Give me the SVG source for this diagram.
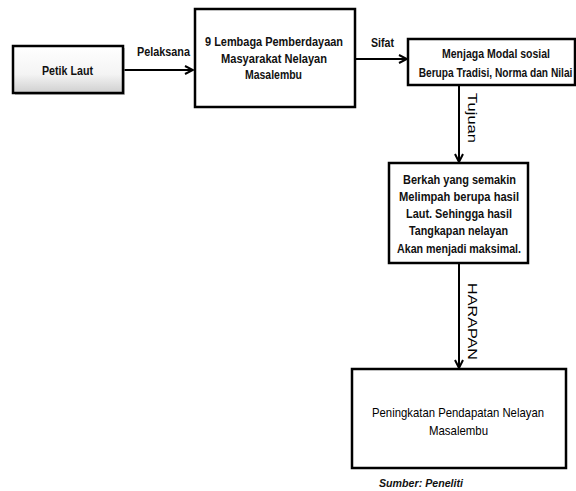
<svg xmlns="http://www.w3.org/2000/svg" width="576" height="491" viewBox="0 0 576 491">
<style>
.box{fill:#fff;stroke:#000;stroke-width:2.5}
.t{font-family:"Liberation Sans Narrow","Liberation Sans",Arial,sans-serif;font-weight:bold;font-size:13.5px;fill:#111;text-anchor:middle}
.n{font-weight:normal;fill:#000}
.c{stroke:#000;stroke-width:2;fill:none}
.src{font-family:"Liberation Sans Narrow","Liberation Sans",Arial,sans-serif;font-style:italic;font-weight:bold;font-size:11.5px;fill:#111;text-anchor:middle}
</style>
<defs>
<linearGradient id="g1" x1="0" y1="0" x2="0" y2="1">
<stop offset="0" stop-color="#ffffff"/>
<stop offset="0.6" stop-color="#f4f4f4"/>
<stop offset="1" stop-color="#cfcfcf"/>
</linearGradient>
<marker id="ah" viewBox="0 0 10 10" refX="9" refY="5" markerWidth="5" markerHeight="5" orient="auto" markerUnits="strokeWidth">
<polyline points="1,1 9,5 1,9" fill="none" stroke="#000" stroke-width="2"/>
</marker>
</defs>
<g id="connectors">
<line class="c" x1="124" y1="70" x2="193" y2="70" marker-end="url(#ah)"/>
<text class="t" transform="translate(163.5,56) scale(0.75,1)" x="0" y="0" textLength="70.7" lengthAdjust="spacingAndGlyphs">Pelaksana</text>
<line class="c" x1="356" y1="59" x2="407" y2="59" marker-end="url(#ah)"/>
<text class="t" transform="translate(382.5,47) scale(0.75,1)" x="0" y="0" textLength="30.7" lengthAdjust="spacingAndGlyphs">Sifat</text>
<line class="c" x1="459" y1="86" x2="459" y2="162" marker-end="url(#ah)"/>
<text class="t n" transform="translate(467.5,118) rotate(90)" x="0" y="0" textLength="50" lengthAdjust="spacingAndGlyphs">Tujuan</text>
<line class="c" x1="459" y1="264" x2="459" y2="368" marker-end="url(#ah)"/>
<text class="t n" transform="translate(467.5,321.5) rotate(90)" x="0" y="0" textLength="77" lengthAdjust="spacingAndGlyphs">HARAPAN</text>
</g>
<g id="petik">
<rect x="15" y="48" width="110" height="47" fill="#9a9a9a" opacity="0.6"/>
<rect x="13" y="46" width="110" height="47" fill="url(#g1)" stroke="#000" stroke-width="2.5"/>
<text class="t" x="67.5" y="75" textLength="51" lengthAdjust="spacingAndGlyphs">Petik Laut</text>
</g>
<g id="lembaga">
<rect class="box" x="195" y="9" width="160" height="98"/>
<text class="t" transform="translate(274,46) scale(0.75,1)" x="0" y="0" textLength="184" lengthAdjust="spacingAndGlyphs">9 Lembaga Pemberdayaan</text>
<text class="t" transform="translate(274,63) scale(0.75,1)" x="0" y="0" textLength="141.3" lengthAdjust="spacingAndGlyphs">Masyarakat Nelayan</text>
<text class="t" x="273.5" y="79" textLength="57" lengthAdjust="spacingAndGlyphs">Masalembu</text>
</g>
<g id="menjaga">
<rect class="box" x="408" y="39" width="167" height="46"/>
<text class="t" transform="translate(496,58) scale(0.75,1)" x="0" y="0" textLength="144" lengthAdjust="spacingAndGlyphs">Menjaga Modal sosial</text>
<text class="t" transform="translate(495.5,77) scale(0.75,1)" x="0" y="0" textLength="205" lengthAdjust="spacingAndGlyphs">Berupa Tradisi, Norma dan Nilai</text>
</g>
<g id="berkah">
<rect class="box" x="389" y="163" width="139" height="100"/>
<text class="t" x="459.5" y="184" textLength="113" lengthAdjust="spacingAndGlyphs">Berkah yang semakin</text>
<text class="t" x="459" y="200.5" textLength="120" lengthAdjust="spacingAndGlyphs">Melimpah berupa hasil</text>
<text class="t" x="459" y="217.5" textLength="106" lengthAdjust="spacingAndGlyphs">Laut. Sehingga hasil</text>
<text class="t" x="458.5" y="235" textLength="99" lengthAdjust="spacingAndGlyphs">Tangkapan nelayan</text>
<text class="t" x="459" y="253" textLength="124" lengthAdjust="spacingAndGlyphs">Akan menjadi maksimal.</text>
</g>
<g id="peningkatan">
<rect class="box" x="352" y="369" width="214" height="99"/>
<text class="t n" x="458" y="417" textLength="172" lengthAdjust="spacingAndGlyphs">Peningkatan Pendapatan Nelayan</text>
<text class="t n" x="458.5" y="435" textLength="59" lengthAdjust="spacingAndGlyphs">Masalembu</text>
</g>
<text class="src" x="421" y="487" textLength="84" lengthAdjust="spacingAndGlyphs">Sumber: Peneliti</text>
</svg>
